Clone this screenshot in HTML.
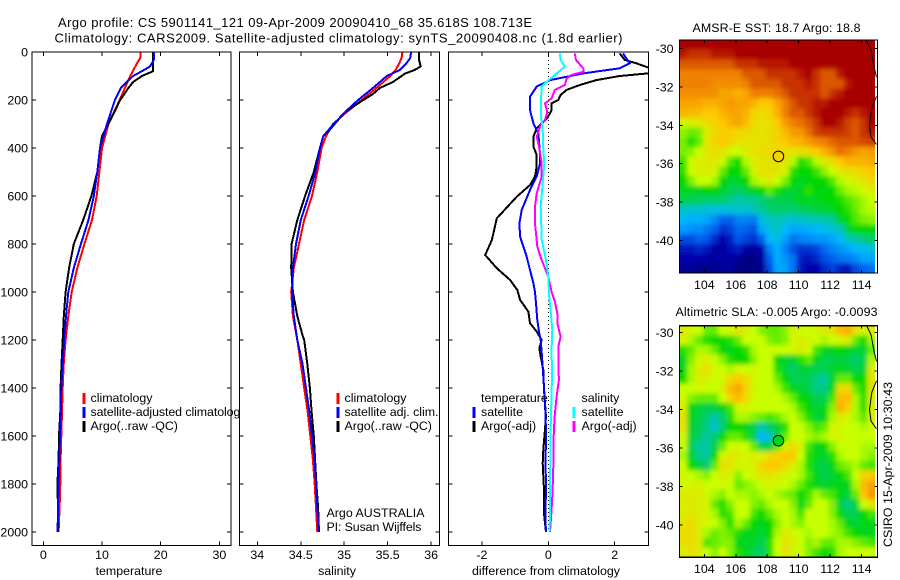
<!DOCTYPE html>
<html>
<head>
<meta charset="utf-8">
<title>Argo profile</title>
<style>
html,body{margin:0;padding:0;background:#fff;}
svg{display:block;}
text{font-family:"Liberation Sans",sans-serif;font-size:12.4px;fill:#000;}
.frame{fill:none;stroke:#000;stroke-width:1.4;shape-rendering:crispEdges;}
.bg{fill:#fff;stroke:none;}
.leg{stroke-width:3;shape-rendering:crispEdges;}
</style>
</head>
<body>
<svg xmlns="http://www.w3.org/2000/svg" width="900" height="580" viewBox="0 0 900 580">
<defs>
<clipPath id="clip-t"><rect x="32" y="52" width="199" height="493.5"/></clipPath>
<clipPath id="clip-s"><rect x="239.5" y="52" width="200" height="493.5"/></clipPath>
<clipPath id="clip-d"><rect x="448.5" y="52" width="200" height="493.5"/></clipPath>
<clipPath id="clip-sst"><rect x="679.5" y="40" width="195.5" height="233"/></clipPath>
<clipPath id="clip-sla"><rect x="679.5" y="325.7" width="195.5" height="231.6"/></clipPath>
<filter id="soften" filterUnits="userSpaceOnUse" x="640" y="0" width="260" height="580"><feGaussianBlur stdDeviation="2.4"/></filter>
</defs>
<rect class="bg" x="0" y="0" width="900" height="580"/>
<text x="58" y="27" textLength="474" lengthAdjust="spacing" style="font-size:13px">Argo profile: CS 5901141_121 09-Apr-2009 20090410_68 35.618S 108.713E</text>
<text x="54.5" y="42.5" textLength="568" lengthAdjust="spacing" style="font-size:13px">Climatology: CARS2009. Satellite-adjusted climatology: synTS_20090408.nc (1.8d earlier)</text>

<g>
<rect class="bg" x="32" y="52" width="199" height="493.5"/>
<g id="marks-t" clip-path="url(#clip-t)"></g>
<g id="ticks-t"></g>
<rect class="frame" x="32" y="52" width="199" height="493.5"/>
<line class="leg" x1="84" y1="393" x2="84" y2="404" stroke="#f00"/>
<text x="90.5" y="402">climatology</text>
<line class="leg" x1="84" y1="407" x2="84" y2="418" stroke="#00f"/>
<text x="90.5" y="416" textLength="156" lengthAdjust="spacing">satellite-adjusted climatology</text>
<line class="leg" x1="84" y1="421" x2="84" y2="432" stroke="#000"/>
<text x="90.5" y="430">Argo(..raw -QC)</text>
<text x="129" y="575" text-anchor="middle">temperature</text>
</g>

<g>
<rect class="bg" x="239.5" y="52" width="200" height="493.5"/>
<g id="marks-s" clip-path="url(#clip-s)"></g>
<g id="ticks-s"></g>
<rect class="frame" x="239.5" y="52" width="200" height="493.5"/>
<line class="leg" x1="338" y1="393" x2="338" y2="404" stroke="#f00"/>
<text x="344.5" y="402">climatology</text>
<line class="leg" x1="338" y1="407" x2="338" y2="418" stroke="#00f"/>
<text x="344.5" y="416" textLength="94" lengthAdjust="spacing">satellite adj. clim.</text>
<line class="leg" x1="338" y1="421" x2="338" y2="432" stroke="#000"/>
<text x="344.5" y="430">Argo(..raw -QC)</text>
<text x="326.5" y="517" textLength="98" lengthAdjust="spacing">Argo AUSTRALIA</text>
<text x="326.5" y="531" textLength="95" lengthAdjust="spacing">PI: Susan Wijffels</text>
<text x="337" y="575" text-anchor="middle">salinity</text>
</g>

<g>
<rect class="bg" x="448.5" y="52" width="200" height="493.5"/>
<g id="marks-d" clip-path="url(#clip-d)"></g>
<g id="ticks-d"></g>
<rect class="frame" x="448.5" y="52" width="200" height="493.5"/>
<text x="481" y="402">temperature</text>
<line class="leg" x1="474" y1="407" x2="474" y2="418" stroke="#00f"/>
<text x="481" y="416">satellite</text>
<line class="leg" x1="474" y1="421" x2="474" y2="432" stroke="#000"/>
<text x="481" y="430">Argo(-adj)</text>
<text x="581.5" y="402">salinity</text>
<line class="leg" x1="574" y1="407" x2="574" y2="418" stroke="#0ff"/>
<text x="581.5" y="416">satellite</text>
<line class="leg" x1="574" y1="421" x2="574" y2="432" stroke="#f0f"/>
<text x="581.5" y="430">Argo(-adj)</text>
<text x="546" y="575" text-anchor="middle" textLength="148" lengthAdjust="spacing">difference from climatology</text>
</g>

<g>
<text x="692.5" y="32" textLength="168" lengthAdjust="spacing">AMSR-E SST: 18.7 Argo: 18.8</text>
<rect class="bg" x="679.5" y="40" width="198" height="233"/>
<g clip-path="url(#clip-sst)"><g id="cells-sst" filter="url(#soften)"></g></g>
<g id="over-sst"></g>
<rect class="frame" x="679.5" y="40" width="198" height="233"/>
</g>

<g>
<text x="675.5" y="316" textLength="202" lengthAdjust="spacing">Altimetric SLA: -0.005 Argo: -0.0093</text>
<rect class="bg" x="679.5" y="325.7" width="198" height="231.6"/>
<g clip-path="url(#clip-sla)"><g id="cells-sla" filter="url(#soften)"></g></g>
<g id="over-sla"></g>
<rect class="frame" x="679.5" y="325.7" width="198" height="231.6"/>
</g>
<text transform="translate(892,547) rotate(-90)" textLength="165" lengthAdjust="spacing">CSIRO 15-Apr-2009 10:30:43</text>
</svg>

<script>
var depthTicks = [0,200,400,600,800,1000,1200,1400,1600,1800,2000];
var tempTicks = [0,10,20,30];
var salTicks = [34,34.5,35,35.5,36];
var salTickLabels = ['34','34.5','35','35.5','36'];
var diffTicks = [-2,0,2];
var lonTicks = [104,106,108,110,112,114];
var latTicks = [-30,-32,-34,-36,-38,-40];

var tempDepth = [0,26,50,100,150,200,300,400,500,600,700,800,900,1000,1100,1200,1300,1400,1500,1600,1700,1800,1900,2000];
var tempClim = [16.6,16.5,15.9,14.8,13.9,13,11.1,10,9.55,9.1,8.3,7,5.8,4.83,4.26,3.8,3.47,3.3,3.18,3.07,2.95,2.9,2.78,2.6];
var tempSatDepth = [0,30,60,80,100,125,150,200,300,400,500,600,700,800,900,1000,1100,1200,1300,1400,1500,1600,1700,1800,1900,2000];
var tempSat = [18.8,18.9,18.2,16.8,15.3,14.2,13.2,12.2,10.85,9.66,9.2,8.6,7.7,6.4,5.2,4.26,3.86,3.58,3.3,3.07,3,2.84,2.73,2.6,2.5,2.44];
var tempArgoDepth = [0,80,100,125,150,200,300,350,400,500,600,700,800,900,1000,1100,1200,1300,1400,1500,1600,1700,1800,1900,2000];
var tempArgo = [18.7,18.7,16.8,15.3,14.5,13.1,11.1,10,9.66,9.2,8.2,6.8,5.2,4.4,3.8,3.5,3.3,3.1,2.95,2.9,2.67,2.6,2.4,2.5,2.5];

var salDepth = [0,25,50,75,100,150,200,250,300,350,400,500,600,700,800,900,1000,1100,1200,1300,1400,1500,1600,1700,1800,1900,2000];
var salClim = [35.67,35.66,35.63,35.59,35.53,35.37,35.2,35.03,34.87,34.79,34.74,34.69,34.63,34.54,34.48,34.42,34.39,34.41,34.46,34.5,34.54,34.58,34.61,34.64,34.66,34.675,34.69];
var salSat = [35.77,35.76,35.71,35.64,35.49,35.33,35.16,35.01,34.88,34.76,34.72,34.67,34.59,34.5,34.445,34.41,34.4,34.42,34.46,34.52,34.56,34.6,34.63,34.66,34.675,34.69,34.705];
var salArgoDepth = [0,30,60,75,90,100,125,150,175,200,250,300,330,350,400,500,600,700,800,900,1000,1100,1180,1200,1300,1400,1500,1600,1700,1800,1900,2000];
var salArgo = [35.86,35.86,35.88,35.81,35.7,35.66,35.56,35.41,35.33,35.22,35.01,34.89,34.82,34.76,34.72,34.65,34.55,34.46,34.395,34.39,34.41,34.46,34.52,34.54,34.575,34.605,34.625,34.65,34.665,34.68,34.7,34.71];

var diffTempSatDepth = [6,47,68,89,117,144,186,242,297,339,422,464,519,575,658,714,769,853,964,1000,1047,1117,1172,1200,1269,1353,1464,1575,1714,1825,1936,2000];
var diffTempSat = [2.25,2.45,2.15,1.05,0.05,-0.35,-0.55,-0.55,-0.45,-0.3,-0.25,-0.25,-0.35,-0.55,-0.8,-0.87,-0.85,-0.65,-0.45,-0.4,-0.37,-0.33,-0.27,-0.23,-0.19,-0.15,-0.1,-0.07,-0.08,-0.07,-0.09,-0.07];
var diffTempArgoDepth = [6,33,47,64,75,89,100,117,137.5,158,179,200,214,242,276,297,318,353,394,429,478,519,554,603,693,783,846,901,950,992,1033,1082,1130,1165,1200,1235,1276,1325,1408,1464,1519,1658,1714,1825,1922,1964,2000];
var diffTempArgo = [2.15,2.3,2.65,3,3.2,3,2.15,1.45,0.95,0.55,0.37,0.3,0.1,0.1,-0.03,-0.2,-0.35,-0.45,-0.45,-0.35,-0.35,-0.4,-0.55,-0.95,-1.55,-1.7,-1.9,-1.55,-1.15,-0.93,-0.85,-0.6,-0.55,-0.35,-0.2,-0.27,-0.22,-0.15,-0.13,-0.1,-0.07,-0.15,-0.17,-0.13,-0.13,-0.1,-0.07];
var diffSalSatDepth = [6,33,61,96,124,144,200,269,325,408,464,547,644,783,867,936,1026,1075,1158,1242,1353,1464,1575,1714,1825,1936,2000];
var diffSalSat = [0.35,0.37,0.5,0.2,-0.05,-0.2,-0.22,-0.22,-0.17,-0.15,-0.12,-0.17,-0.23,-0.2,-0.07,0,0.03,0.07,0.12,0.1,0.11,0.09,0.07,0.06,0.05,0.05,0.03];
var diffSalArgoDepth = [6,33,68,82,96,110,137.5,158,193,214,249,283,311,353,394,464,519,589,644,714,811,867,936,1000,1040,1089,1130,1186,1228,1297,1367,1436,1506,1575,1658,1728,1825,1908,1964,2000];
var diffSalArgo = [0.8,0.83,1.05,1.07,0.7,0.55,0.5,0.2,0.1,-0.1,-0.03,-0.1,-0.25,-0.35,-0.28,-0.2,-0.2,-0.35,-0.4,-0.4,-0.33,-0.2,0,0.1,0.2,0.27,0.27,0.37,0.3,0.3,0.32,0.25,0.2,0.17,0.15,0.15,0.13,0.1,0.07,0.05];

var coastA = [[114.3,-29.6],[114.6,-30.1],[114.8,-31],[114.95,-31.5]];
var coastB = [[114.95,-32.5],[114.65,-33.1],[114.5,-34],[114.6,-34.6],[114.95,-35]];
var argoLon = 108.713;
var argoLat = -35.618;
var argoSST = 18.8;
var argoSLA = -0.93;

var sstRows = [
[22,22,22,22,22,22,22,22,22,22,22,22,22,22,22,22,22,22,22,22,22,22,22,22,22],
[21.5,21,21,21,21.5,21.5,21.5,22,22,22,22,22,22,22,22,22,22,22,22,22,22,22,22,22,22],
[20.5,20.5,20.5,20.5,20.5,20.5,20.5,21,21,21,21.5,21.5,21.5,21.5,22,22,22,22,22,22,22,22,22,22,22],
[20,20,20,20,20,20,20,20,20.5,20.5,20.5,21,21,21,21,21.5,22,21,20.5,20.5,21.5,22,22,22,22],
[20,20,20,20,19.8,19.8,19.8,19.8,20,20.5,20.5,20.5,20.5,21,21,21,21.5,21,20.5,20.5,20.5,21.5,22,22,22],
[19.8,19.8,19.8,19.8,19.8,19.5,19.5,19.3,19.5,20,20,20,20.2,20.5,21,21,21,21,20.5,21,21.5,22,22,22,22],
[19.5,19.5,19.5,19.3,19.3,19.5,19.7,19.5,19.5,19.3,19,19,19.5,20,20.5,21,21,21.5,21.5,22,22,22,22,22,22],
[19.3,19.2,19.2,19,19,19.3,19.5,19.5,19.3,18.8,18.6,18.8,19.3,20,20.5,20.5,21,21.5,22,22,22,21.5,21,21.5,22],
[18.2,18.3,18.4,18.6,18.8,19,19.3,19.5,19.2,18.7,18.5,18.6,19,19.6,20,20.2,20.5,21,22,22,21.5,20.8,20.5,21,22],
[17.7,17.5,17.6,18.3,18.7,18.9,18.9,18.7,18.7,18.6,18.5,18.6,18.8,19.2,19.6,19.7,20.2,20.8,21,21,21,20.8,20.5,21,21.5],
[17.6,17.1,17.5,18.4,18.8,19,18.8,18.5,18.5,18.5,18.5,18.6,18.8,19,19.2,19.3,19.6,19.9,20,20.3,20.5,20.5,20.5,20.7,20.8],
[17.6,17.7,18,18.4,18.6,18.5,18.2,18,18.3,18.5,18.6,18.7,18.7,18.6,18.5,18.6,18.7,19,19.3,19.7,20.2,20,19.7,19.5,19.6],
[17.3,18,18.3,18.4,18.4,18.1,17.4,17,17.9,18.3,18.5,18.5,18.5,18.5,17.9,17.1,17.4,17.9,18.4,18.7,19,19.3,19.3,19.3,19.4],
[17.2,18,18.3,18.3,18.2,17.5,17,17,17.5,18.2,18.5,18.5,18.5,18.2,17.2,17,17,17.3,17.7,18,18.4,18.6,18.6,18.9,19],
[17,17.6,18,18,17.8,17,16.7,16.8,17,17.8,18.2,18.4,18,17.6,17,16.8,16.9,17,17,17.4,17.9,18.1,18.3,18.5,18.7],
[16.8,16.8,16.8,17,17,16.7,16.5,16.4,16.6,16.8,17,17.5,17.1,16.8,16.7,16.8,17.2,16.9,16.9,17,17.5,17.8,17.9,18.1,18.3],
[16.5,16.5,16.4,16.3,16.3,16.3,16.1,15.9,16,16.1,16.3,16.4,16.5,16.5,16.6,16.8,16.8,16.8,16.9,17,17.1,17.4,17.6,17.8,18],
[15.6,15.5,15.5,15.4,15.3,15.3,15.4,15.5,15.5,15.7,16,16.3,16.4,16.3,16.3,16.4,16.5,16.6,16.7,16.8,17,17.2,17.5,17.8,17.9],
[15,14.9,14.9,14.8,14.5,14,14,14.4,14.4,14.3,15.3,15.6,15.8,15.6,15.5,15.6,15.7,15.8,15.9,16.1,16.7,17,17.4,17.6,17.7],
[14.7,14.5,14.5,14.3,14,13.5,13.7,14.1,14,13.8,14.8,15.4,15.6,15,14.8,14.8,14.9,15,15.2,15.4,15.7,16.6,17,17,17],
[13.8,13.8,14,13.9,13.4,12.9,13.3,13.9,13.7,13.5,14,15,15.2,14.7,14.2,14.4,14.5,14.6,14.6,14.8,15,15.7,16,16.2,16.4],
[13.2,13.2,13.4,13.2,12.8,12.7,13.1,13.3,12.8,12.6,13,14.4,14.9,14.4,13.8,13.5,13.5,13.7,14.1,14.4,14.6,14.8,15,15.2,15.4],
[12.8,13,12.8,12.8,12.6,12.8,12.9,12.4,12.1,12.1,12.5,14,14.9,14.6,14.2,13.3,13.2,13.4,13.8,14,14.2,14.3,14.5,14.8,14.8],
[12.5,12.4,12.4,12.3,12.3,12.5,12.6,12.3,12,12.1,12.4,13.8,14.8,14.7,14.2,13.2,12.9,13,13.4,13.7,13.3,13.2,13.8,14,14.2]
];

var slaRows = [
[8,7,6,3,3,6,7,9,8,6,4,3,3,4,7,7,6,7,8,9,13,14,9,7,8],
[7,5,3,1,0,0,1,3,6,6,6,4,3,4,7,8,7,6,5,6,7,8,3,0,5],
[1,3,5,5,3,0,-1,0,1,5,6,6,6,6,7,8,6,2,-1,-1,0,-1,-2,-2,3],
[-1,4,7,8,6,4,1,0,0,4,6,6,0,-2,-2,1,3,-1,-3,-3,-2,-3,-4,-3,5],
[-1,5,8,9,7,6,5,7,6,7,6,6,1,-2,-4,-2,-2,-3,-3,-2,-1,-2,-3,-2,8],
[0,5,8,8,6,7,10,12,10,7,6,6,3,0,-3,-3,-3,-5,-6,-2,3,3,0,0,9],
[6,6,7,6,6,8,13,15,11,7,6,6,5,2,-1,-2,-3,-5,-5,-1,10,10,3,0,9],
[7,4,3,3,3,6,11,13,10,7,6,6,6,5,3,0,-1,-3,-3,2,13,13,5,1,8],
[8,-1,-2,-3,-2,-1,2,7,7,6,6,6,6,6,5,2,0,-2,-1,4,14,11,5,1,8],
[9,-1,-3,-4,-7,-4,1,5,5,4,3,2,3,5,6,4,1,-2,-1,5,8,7,5,3,8],
[9,-2,-3,-5,-9,-4,0,0,-1,-3,-7,-4,-2,1,6,6,4,2,3,7,7,6,6,5,7],
[7,-2,-4,-6,-4,0,3,3,1,-3,-12,-9,-2,3,6,6,5,4,5,7,7,6,6,6,6],
[6,-3,-6,-6,-3,3,6,7,6,3,-3,-3,3,8,10,7,2,-1,0,4,6,6,6,5,5],
[5,-2,-5,-6,0,7,9,8,7,8,7,10,11,12,12,6,1,-1,-2,1,5,6,6,5,4],
[6,0,-2,-4,3,9,9,7,7,8,11,12,12,10,8,5,1,-2,-3,-1,3,4,5,3,2],
[7,6,5,4,6,8,7,4,6,7,9,9,8,7,6,5,2,-1,-3,-2,0,2,6,11,12],
[7,7,8,6,6,7,6,3,4,5,6,7,7,6,5,3,1,-1,-2,-1,-1,-1,5,13,15],
[8,8,8,7,5,4,6,5,5,4,5,6,5,4,3,0,2,5,3,2,-1,-2,3,12,16],
[8,8,8,7,3,1,4,6,6,4,3,5,6,6,4,-1,3,6,6,4,-2,-5,-2,6,9],
[8,9,8,7,5,1,2,6,6,2,0,3,5,6,5,2,6,6,6,4,0,-3,-3,0,2],
[9,10,8,7,6,4,1,5,3,0,-1,0,4,6,5,4,6,6,6,5,3,-1,-2,-1,-1],
[10,10,8,5,3,4,3,1,-1,-1,-2,0,5,8,7,6,5,6,6,5,4,2,0,-1,-1],
[9,10,8,2,3,4,4,-1,-1,-2,-3,1,6,9,8,6,4,5,3,3,5,5,4,3,2],
[8,9,8,6,4,6,4,1,-1,-3,-4,1,6,9,7,6,4,2,0,1,5,6,6,6,6]
];

var colorStops = ['#000080','#0000b0','#0060f0','#00b8ff','#00c8a0','#00d800','#c8ff00','#ffc800','#f08000','#c83000','#a80000'];
var colorPos = [0,0.1,0.2,0.3,0.4,0.5,0.6,0.7,0.8,0.9,1];

var NS = 'http://www.w3.org/2000/svg';
function mk(tag, attrs, parent) {
  var el = document.createElementNS(NS, tag);
  for (var k in attrs) { el.setAttribute(k, attrs[k]); }
  parent.appendChild(el);
  return el;
}
function byId(id) { return document.getElementById(id); }
function yDepth(d) { return 52 + d * 0.24; }
function xTemp(v) { return 43.3 + v * 5.87; }
function xSal(v) { return 257.3 + (v - 34) * 86.9; }
function xDiff(v) { return 548.3 + v * 33.2; }
function xLon(v) { return 704.3 + (v - 104) * 15.73; }
function ySstLat(v) { return 48.3 + (-30 - v) * 19.24; }
function ySlaLat(v) { return 332.7 + (-30 - v) * 19.22; }

function hex2(s, i) { return parseInt(s.substr(i, 2), 16); }
function colorAt(t) {
  t = Math.max(0, Math.min(1, t));
  var i = 0;
  while (i < colorPos.length - 2 && t > colorPos[i + 1]) { i++; }
  var f = (t - colorPos[i]) / (colorPos[i + 1] - colorPos[i]);
  var a = colorStops[i], b = colorStops[i + 1];
  var r = Math.round(hex2(a, 1) + (hex2(b, 1) - hex2(a, 1)) * f);
  var g = Math.round(hex2(a, 3) + (hex2(b, 3) - hex2(a, 3)) * f);
  var bl = Math.round(hex2(a, 5) + (hex2(b, 5) - hex2(a, 5)) * f);
  return 'rgb(' + r + ',' + g + ',' + bl + ')';
}
function sstT(v) { return (v - 12) / 10; }
function slaT(v) { return (v + 30) / 60; }

function drawLine(parentId, xs, ds, xf, color, name) {
  var pts = [];
  for (var i = 0; i < xs.length; i++) { pts.push(xf(xs[i]).toFixed(1) + ',' + yDepth(ds[i]).toFixed(1)); }
  var el = mk('polyline', {points: pts.join(' '), fill: 'none', stroke: color, 'stroke-width': 2, 'stroke-linejoin': 'miter', 'shape-rendering': 'crispEdges'}, byId(parentId));
  
  
}

function drawTicks(parentId, x0, x1, ticksX, xf, labelsX, withDepthLabels) {
  var g = byId(parentId);
  var top = 52, bot = 545.5, len = 4;
  ticksX.forEach(function (v, i) {
    var x = xf(v);
    var a = mk('path', {d: 'M' + x + ' ' + top + 'v' + len + 'M' + x + ' ' + bot + 'v' + (-len), stroke: '#000', 'stroke-width': 1, fill: 'none', 'shape-rendering': 'crispEdges'}, g);
    
    
    var t = mk('text', {x: x, y: 559, 'text-anchor': 'middle'}, g);
    t.textContent = labelsX[i];
    
    
  });
  depthTicks.forEach(function (d) {
    var y = yDepth(d);
    var b = mk('path', {d: 'M' + x0 + ' ' + y + 'h' + len + 'M' + x1 + ' ' + y + 'h' + (-len), stroke: '#000', 'stroke-width': 1, fill: 'none', 'shape-rendering': 'crispEdges'}, g);
    
    
    if (withDepthLabels) {
      var t = mk('text', {x: 28, y: y + 4.5, 'text-anchor': 'end'}, g);
      t.textContent = String(d);
      
      
    }
  });
}

function drawMap(cellsId, overId, rows, tf, yLat, argoValue, labelBaseline, top, prefix) {
  var g = byId(cellsId);
  var lon0 = 102.41, lonStep = (114.87 - 102.41) / 25;
  var latTop = (top === 40) ? -29.57 : -29.64;
  var latStep = (41.68 + latTop) / 24;
  var nRows = rows.length;
  rows.forEach(function (row, r) {
    row.forEach(function (v, c) {
      var xa = xLon(lon0 + c * lonStep), xb = xLon(lon0 + (c + 1) * lonStep);
      var ya = yLat(latTop - r * latStep), yb = yLat(latTop - (r + 1) * latStep);
      if (c === 0) { xa -= 10; }
      if (c === row.length - 1) { xb += 10; }
      if (r === 0) { ya -= 10; }
      if (r === nRows - 1) { yb += 10; }
      var cell = mk('rect', {x: xa.toFixed(2), y: ya.toFixed(2), width: (xb - xa + 0.4).toFixed(2), height: (yb - ya + 0.4).toFixed(2), fill: colorAt(tf(v))}, g);
      
      
    });
  });
  var o = byId(overId);
  [coastA, coastB].forEach(function (seg) {
    var pts = seg.map(function (p) { return xLon(p[0]).toFixed(1) + ',' + yLat(p[1]).toFixed(1); }).join(' ');
    var cl = mk('polyline', {points: pts, fill: 'none', stroke: '#000', 'stroke-width': 1}, o);
    
    
  });
  var c = mk('circle', {cx: xLon(argoLon), cy: yLat(argoLat), r: 5.3, fill: colorAt(tf(argoValue)), stroke: '#000', 'stroke-width': 1}, o);
  
  
  var bottom = labelBaseline - 16;
  lonTicks.forEach(function (v) {
    var x = xLon(v);
    var tk = mk('path', {d: 'M' + x + ' ' + top + 'v3M' + x + ' ' + bottom + 'v-3', stroke: '#000', 'stroke-width': 1, 'shape-rendering': 'crispEdges'}, o);
    
    
    var t = mk('text', {x: x, y: labelBaseline, 'text-anchor': 'middle'}, o);
    t.textContent = String(v);
    
    
  });
  latTicks.forEach(function (v) {
    var y = yLat(v);
    var tk = mk('path', {d: 'M679.5 ' + y + 'h3M877.5 ' + y + 'h-3', stroke: '#000', 'stroke-width': 1, 'shape-rendering': 'crispEdges'}, o);
    
    
    var t = mk('text', {x: 673.5, y: y + 4.5, 'text-anchor': 'end'}, o);
    t.textContent = String(v);
    
    
  });
}

drawLine('marks-t', tempClim, tempDepth, xTemp, '#f00', 'temperature-climatology-line');
drawLine('marks-t', tempArgo, tempArgoDepth, xTemp, '#000', 'temperature-argo-line');
drawLine('marks-t', tempSat, tempSatDepth, xTemp, '#00f', 'temperature-satellite-line');
drawTicks('ticks-t', 32, 231, tempTicks, xTemp, tempTicks.map(String), true);

drawLine('marks-s', salClim, salDepth, xSal, '#f00', 'salinity-climatology-line');
drawLine('marks-s', salArgo, salArgoDepth, xSal, '#000', 'salinity-argo-line');
drawLine('marks-s', salSat, salDepth, xSal, '#00f', 'salinity-satellite-line');
drawTicks('ticks-s', 239.5, 439.5, salTicks, xSal, salTickLabels, false);

var zeroLine = mk('line', {x1: xDiff(0), y1: yDepth(0), x2: xDiff(0), y2: yDepth(2000), stroke: '#000', 'stroke-width': 1, 'stroke-dasharray': '1 3', 'shape-rendering': 'crispEdges'}, byId('marks-d'));


drawLine('marks-d', diffTempArgo, diffTempArgoDepth, xDiff, '#000', 'difference-temperature-argo-line');
drawLine('marks-d', diffTempSat, diffTempSatDepth, xDiff, '#00f', 'difference-temperature-satellite-line');
drawLine('marks-d', diffSalArgo, diffSalArgoDepth, xDiff, '#f0f', 'difference-salinity-argo-line');
drawLine('marks-d', diffSalSat, diffSalSatDepth, xDiff, '#0ff', 'difference-salinity-satellite-line');
drawTicks('ticks-d', 448.5, 648.5, diffTicks, xDiff, diffTicks.map(String), false);

drawMap('cells-sst', 'over-sst', sstRows, sstT, ySstLat, argoSST, 289, 40, 'sst');
drawMap('cells-sla', 'over-sla', slaRows, slaT, ySlaLat, argoSLA, 573, 325.7, 'sla');
</script>
</body>
</html>
